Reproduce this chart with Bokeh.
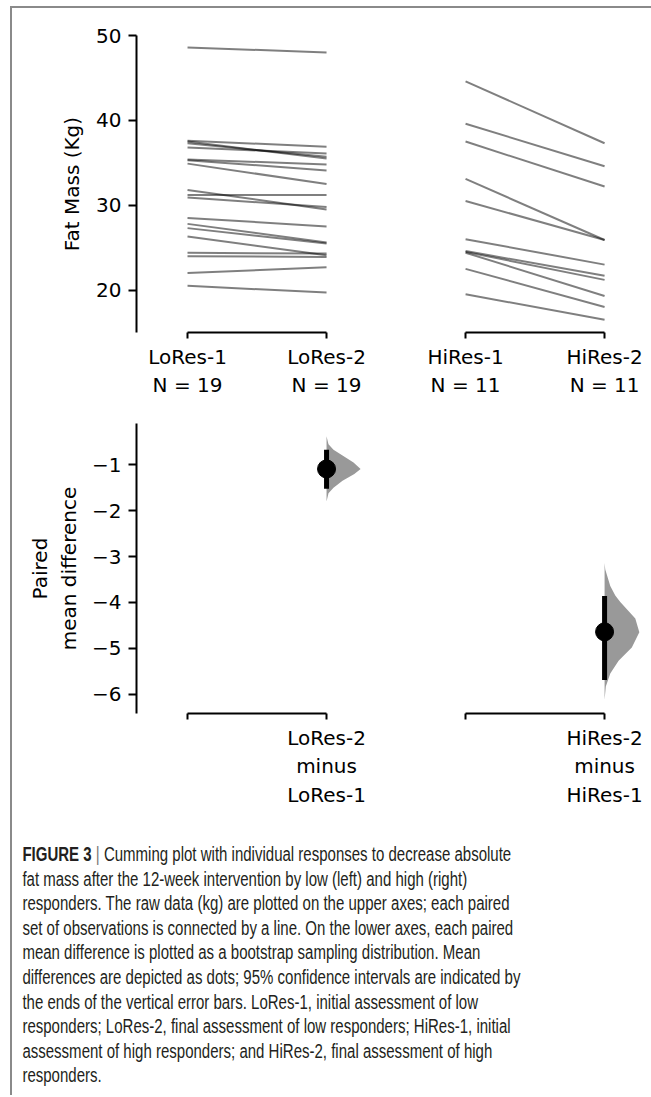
from bokeh.plotting import figure
from bokeh.layouts import column, row
from bokeh.models import FixedTicker, Div, Range1d, ColumnDataSource
from bokeh.embed import file_html
from bokeh.resources import INLINE

# ---------------- data ----------------
positions = [0, 1, 2, 3]
upper_labels = ["LoRes-1\nN = 19", "LoRes-2\nN = 19", "HiRes-1\nN = 11", "HiRes-2\nN = 11"]
lower_labels = ["", "LoRes-2\nminus\nLoRes-1", "", "HiRes-2\nminus\nHiRes-1"]

lores_pre = [48.6, 37.6, 37.5, 37.3, 36.8, 35.4, 35.3, 34.9, 31.8, 31.2, 30.9,
             28.5, 27.8, 27.3, 26.3, 24.4, 24.0, 22.0, 20.5]
lores_post = [48.0, 36.9, 35.5, 35.7, 36.1, 34.8, 34.1, 32.5, 29.5, 31.2, 29.8,
              27.5, 25.6, 25.5, 24.1, 24.3, 23.9, 22.7, 19.7]
hires_pre = [44.6, 39.6, 37.5, 33.1, 30.5, 26.0, 24.6, 24.5, 24.4, 22.5, 19.5]
hires_post = [37.3, 34.6, 32.2, 25.9, 25.9, 23.0, 21.7, 21.2, 19.3, 18.0, 16.5]

upper_ticks = [20, 30, 40, 50]
lower_ticks = [-1, -2, -3, -4, -5, -6]
lower_tick_text = ["\u22121", "\u22122", "\u22123", "\u22124", "\u22125", "\u22126"]

# paired mean differences and 95% CI
lo_mean, lo_ci = -1.09, (-1.52, -0.67)
hi_mean, hi_ci = -4.64, (-5.69, -3.86)

# bootstrap distribution outlines (value, half-width in x units)
lo_kde_y = [-0.38, -0.55, -0.67, -0.80, -0.95, -1.09, -1.20, -1.35, -1.50, -1.62, -1.80]
lo_kde_w = [0.0, 0.014, 0.05, 0.115, 0.194, 0.245, 0.20, 0.115, 0.05, 0.014, 0.0]
hi_kde_y = [-3.14, -3.28, -3.64, -3.85, -3.99, -4.35, -4.65, -4.98, -5.27, -5.55, -5.83, -6.12]
hi_kde_w = [0.0, 0.005, 0.041, 0.077, 0.113, 0.221, 0.25, 0.196, 0.101, 0.041, 0.009, 0.0]

FONT = "DejaVu Sans"
FS = "20px"


def style_xaxis(p, ticks, labels):
    ax = p.xaxis[0]
    ax.ticker = FixedTicker(ticks=ticks)
    ax.bounds = (ticks[0], ticks[1])
    ax.major_label_overrides = {t: l for t, l in zip(ticks, labels)}
    ax.major_tick_in = 0
    ax.major_tick_out = 6
    ax.minor_tick_line_color = None
    ax.axis_line_width = 2
    ax.major_tick_line_width = 2
    ax.axis_line_color = "black"
    ax.major_tick_line_color = "black"
    ax.major_label_text_font = FONT
    ax.major_label_text_font_size = FS
    ax.major_label_text_color = "black"
    ax.major_label_standoff = 6


def style_yaxis(p, ticks, overrides, label, standoff):
    ax = p.yaxis[0]
    ax.ticker = FixedTicker(ticks=ticks)
    if overrides:
        ax.major_label_overrides = overrides
    ax.major_tick_in = 0
    ax.major_tick_out = 8
    ax.minor_tick_line_color = None
    ax.axis_line_width = 2
    ax.major_tick_line_width = 2
    ax.axis_line_color = "black"
    ax.major_tick_line_color = "black"
    ax.major_label_text_font = FONT
    ax.major_label_text_font_size = FS
    ax.major_label_text_color = "black"
    ax.major_label_standoff = 7
    ax.axis_label = label
    ax.axis_label_text_font = FONT
    ax.axis_label_text_font_size = FS
    ax.axis_label_text_font_style = "normal"
    ax.axis_label_text_color = "black"
    ax.axis_label_standoff = standoff


def make_fig(xr, yr, width, height, left, top, bottom, has_y):
    p = figure(width=width, height=height, x_range=xr, y_range=yr,
               output_backend="svg", toolbar_location=None,
               y_axis_location="left" if has_y else None,
               min_border_left=left, min_border_right=0,
               min_border_top=top, min_border_bottom=bottom)
    p.outline_line_color = None
    p.grid.visible = False
    p.background_fill_color = None
    p.border_fill_color = None
    return p


xr_left = Range1d(-0.367, 1.496)
xr_right = Range1d(1.496, 3.28)
yr_up = Range1d(15, 50)
yr_low = Range1d(-6.42, -0.1)

# ---------- upper row ----------
u1 = make_fig(xr_left, yr_up, 383, 392, 124, 27, 68, True)
u2 = make_fig(xr_right, yr_up, 248, 392, 0, 27, 68, False)
style_yaxis(u1, upper_ticks, None, "Fat Mass (Kg)", 9)
style_xaxis(u1, positions[0:2], upper_labels[0:2])
style_xaxis(u2, positions[2:4], upper_labels[2:4])

src_lo = ColumnDataSource(dict(x0=[positions[0]] * len(lores_pre), y0=lores_pre,
                               x1=[positions[1]] * len(lores_post), y1=lores_post))
src_hi = ColumnDataSource(dict(x0=[positions[2]] * len(hires_pre), y0=hires_pre,
                               x1=[positions[3]] * len(hires_post), y1=hires_post))
u1.segment(x0="x0", y0="y0", x1="x1", y1="y1", source=src_lo,
           line_color="black", line_alpha=0.5, line_width=2)
u2.segment(x0="x0", y0="y0", x1="x1", y1="y1", source=src_hi,
           line_color="black", line_alpha=0.5, line_width=2)

# ---------- lower row ----------
l1 = make_fig(xr_left, yr_low, 383, 410, 124, 23, 89, True)
l2 = make_fig(xr_right, yr_low, 248, 410, 0, 23, 89, False)
style_yaxis(l1, lower_ticks, dict(zip(lower_ticks, lower_tick_text)),
            "Paired\nmean difference", 8)
style_xaxis(l1, positions[0:2], lower_labels[0:2])
style_xaxis(l2, positions[2:4], lower_labels[2:4])

for p, pos, ky, kw, m, ci in [(l1, positions[1], lo_kde_y, lo_kde_w, lo_mean, lo_ci),
                              (l2, positions[3], hi_kde_y, hi_kde_w, hi_mean, hi_ci)]:
    p.harea(y=ky, x1=[pos] * len(ky), x2=[pos + w for w in kw],
            fill_color="#999999", fill_alpha=1.0)
    p.segment(x0=[pos], y0=[ci[0]], x1=[pos], y1=[ci[1]],
              line_color="black", line_width=5)
    p.scatter(x=[pos], y=[m], size=18, marker="circle",
              fill_color="black", line_color="black")

caption_lines = [
    "<b>FIGURE 3</b> <span style='color:#777'>|</span> Cumming plot with individual responses to decrease absolute",
    "fat mass after the 12-week intervention by low (left) and high (right)",
    "responders. The raw data (kg) are plotted on the upper axes; each paired",
    "set of observations is connected by a line. On the lower axes, each paired",
    "mean difference is plotted as a bootstrap sampling distribution. Mean",
    "differences are depicted as dots; 95% confidence intervals are indicated by",
    "the ends of the vertical error bars. LoRes-1, initial assessment of low",
    "responders; LoRes-2, final assessment of low responders; HiRes-1, initial",
    "assessment of high responders; and HiRes-2, final assessment of high",
    "responders.",
]
caption_html = ("<div style=\"font-family:'Liberation Sans',Arial,sans-serif;font-size:19.5px;"
                "line-height:24.6px;color:#231f20;white-space:nowrap;"
                "transform:scaleX(0.77);transform-origin:0 0;padding-top:27px;padding-left:7px\">"
                + "<br>".join(caption_lines) + "</div>")
cap = Div(text=caption_html, width=631, height=275)

layout = column(row(u1, u2), row(l1, l2), cap,
                styles={"border-top": "2px solid #8a8a8a", "border-left": "2px solid #8a8a8a",
                        "margin-left": "10px", "margin-top": "6px"})

open("out.html", "w").write(file_html(layout, INLINE))
